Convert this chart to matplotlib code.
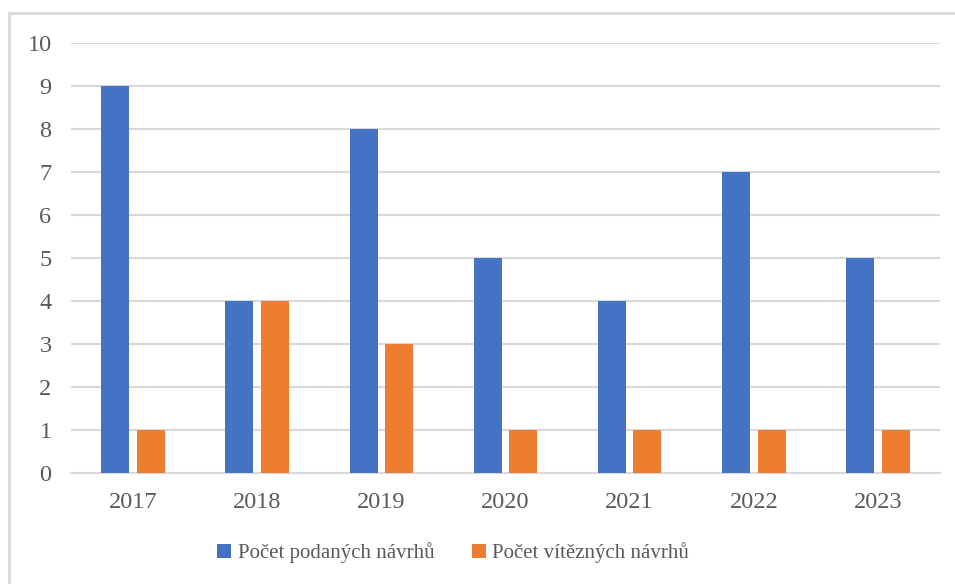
import matplotlib
matplotlib.use("Agg")
import matplotlib.pyplot as plt
import numpy as np
from matplotlib.patches import Rectangle

years = ["2017", "2018", "2019", "2020", "2021", "2022", "2023"]
submitted = [9, 4, 8, 5, 4, 7, 5]
winning = [1, 4, 3, 1, 1, 1, 1]
series_names = ["Počet podaných návrhů", "Počet vítězných návrhů"]
colors = ["#4472C4", "#ED7D31"]

plt.rcParams['font.family'] = ['Liberation Serif', 'DejaVu Serif']

W, H = 955, 584
fig = plt.figure(figsize=(W/100, H/100), dpi=100)
ax = fig.add_axes([71/W, 1-473/H, (940-71)/W, (473-43)/H])

x = np.arange(len(years))
bw = 0.225
off = 0.143
ax.bar(x - off, submitted, bw, color=colors[0], label=series_names[0], zorder=3)
ax.bar(x + off, winning, bw, color=colors[1], label=series_names[1], zorder=3)

ax.set_xlim(-0.5, len(years) - 0.5)
ax.set_ylim(0, 10)
ax.set_yticks(range(0, 11))
ax.set_xticks(x)
ax.set_xticklabels(years)
ax.grid(axis='y', color='#D9D9D9', linewidth=1.5, zorder=0)
for s in ['top', 'right', 'left']:
    ax.spines[s].set_visible(False)
ax.spines['bottom'].set_color('#D9D9D9')
ax.spines['bottom'].set_linewidth(1.5)
ax.spines['bottom'].set_zorder(1)
ax.tick_params(axis='both', length=0, labelsize=17.5, labelcolor='#595959')
ax.tick_params(axis='y', pad=14)
ax.tick_params(axis='x', pad=14)

leg = fig.legend(loc='center', bbox_to_anchor=(453/W, 1-553/H), ncol=2, frameon=False,
                 fontsize=15, handlelength=0.7, handleheight=0.7, handletextpad=0.3,
                 columnspacing=1.8, labelcolor='#595959')

fig.patches.append(Rectangle((9/W, -0.1), 1.1, 1.1 - 13/H, transform=fig.transFigure,
                             fill=False, edgecolor='#D9D9D9', linewidth=2, zorder=0))

fig.savefig("out.png", dpi=100)
